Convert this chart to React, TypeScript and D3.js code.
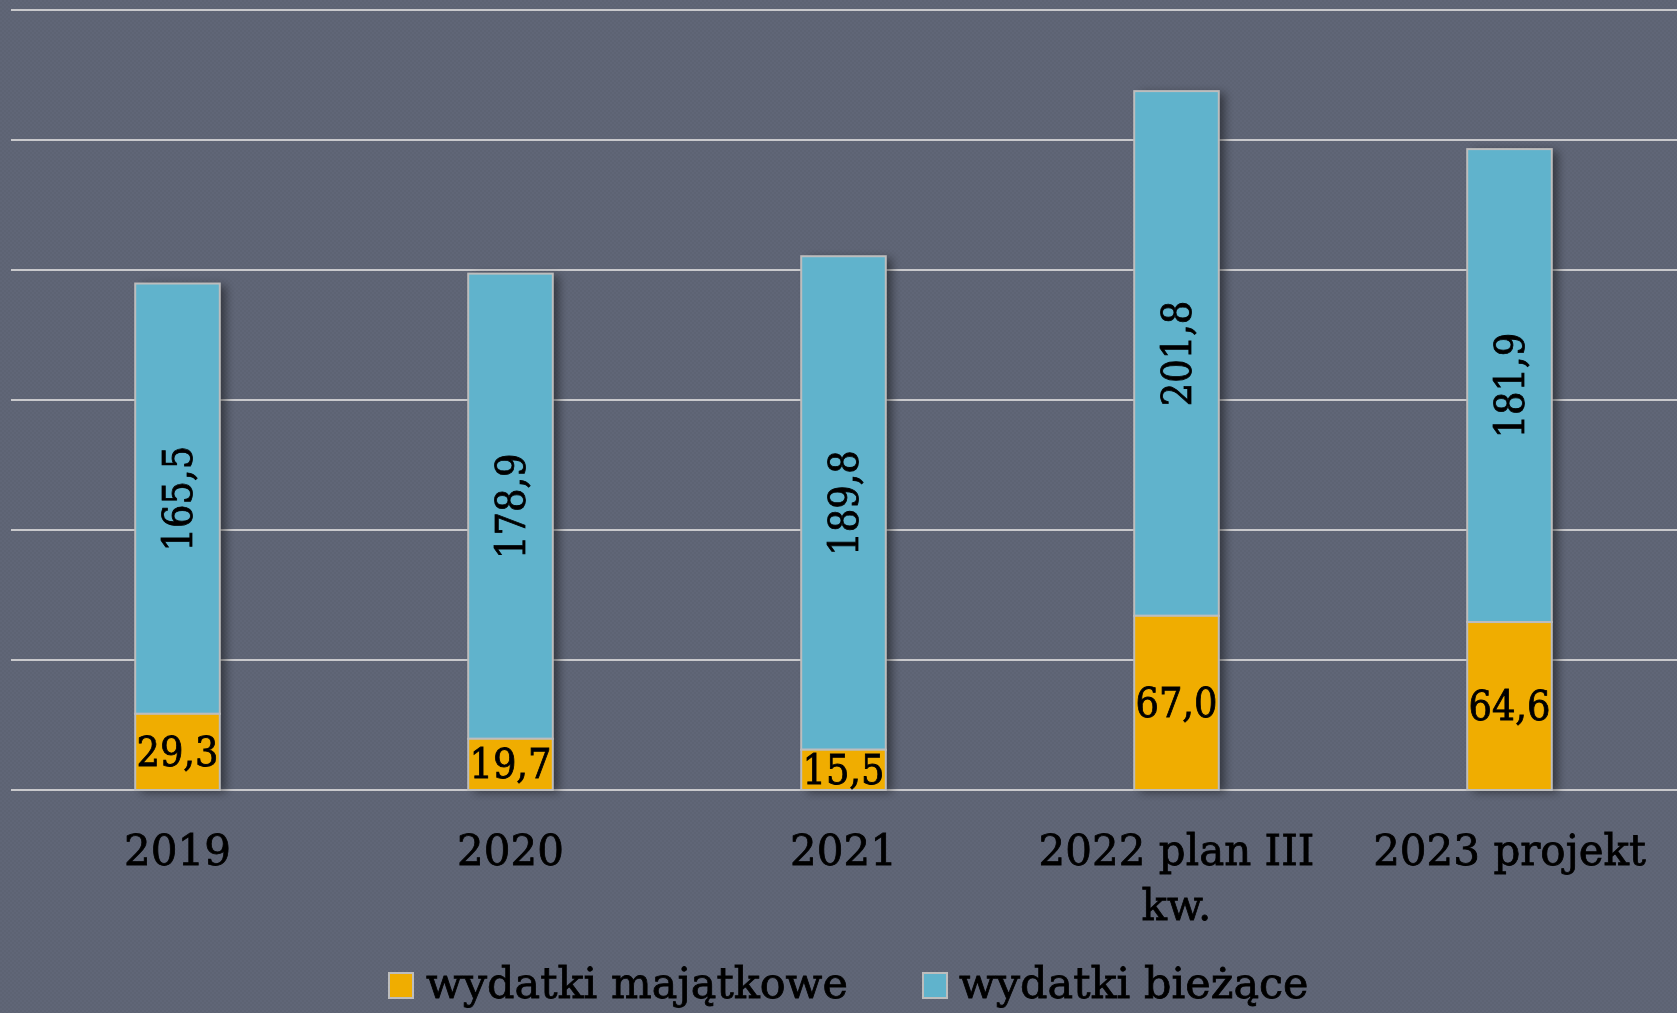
import React from "react";
import * as d3 from "d3";

const categories = ["2019", "2020", "2021", "2022 plan III kw.", "2023 projekt"];
const categoryLines = [["2019"], ["2020"], ["2021"], ["2022 plan III", "kw."], ["2023 projekt"]];
const majatkowe = [29.3, 19.7, 15.5, 67.0, 64.6];
const biezace = [165.5, 178.9, 189.8, 201.8, 181.9];
const seriesNames = ["wydatki majątkowe", "wydatki bieżące"];
const gridTicks = [0, 50, 100, 150, 200, 250, 300];

const W = 1677;
const H = 1013;
const BG = "#5d6373";
const ORANGE = "#f0ad00";
const BLUE = "#60b3cc";
const FONT = "'DejaVu Serif', serif";

const fmt = (v: number) => d3.format(".1f")(v).replace(".", ",");

export default function App() {
  const x = d3.scaleBand<string>().domain(categories).range([11, 1676]).paddingInner(0.746).paddingOuter(0.373);
  const y = d3.scaleLinear().domain([0, 300]).range([790, 10]);
  const bw = x.bandwidth();
  const heavy = { stroke: "#000", strokeWidth: 0.8 } as const;

  return (
    <svg width={W} height={H} style={{ position: "fixed", left: 0, top: 0 }} xmlns="http://www.w3.org/2000/svg">
      <defs>
        <pattern id="tex" width="4" height="4" patternUnits="userSpaceOnUse">
          <rect width="4" height="4" fill={BG} />
          <rect width="2" height="2" fill="#606677" />
          <rect x="2" y="2" width="2" height="2" fill="#606677" />
        </pattern>
        <filter id="shadow" x="-20%" y="-10%" width="160%" height="130%">
          <feDropShadow dx="6" dy="2" stdDeviation="5" floodColor="#000" floodOpacity="0.45" />
        </filter>
      </defs>
      <rect width={W} height={H} fill="url(#tex)" />
      {gridTicks.map((t) => (
        <line key={t} x1={11} x2={W} y1={y(t)} y2={y(t)} stroke="#c9c9cc" strokeWidth={2} />
      ))}
      {categories.map((c, i) => {
        const x0 = x(c)!;
        const m = majatkowe[i];
        const b = biezace[i];
        return (
          <g key={c}>
            <g filter="url(#shadow)">
              <rect x={x0} y={y(m + b)} width={bw} height={y(0) - y(m + b)} fill={BLUE} />
            </g>
            <rect x={x0} y={y(m + b)} width={bw} height={y(m) - y(m + b)} fill={BLUE} stroke="#bdbdbd" strokeWidth={2} />
            <rect x={x0} y={y(m)} width={bw} height={y(0) - y(m)} fill={ORANGE} stroke="#bdbdbd" strokeWidth={2} />
          </g>
        );
      })}
      {categories.map((c, i) => {
        const cx = x(c)! + bw / 2;
        const m = majatkowe[i];
        const b = biezace[i];
        const cyM = (y(0) + y(m)) / 2;
        const cyB = (y(m) + y(m + b)) / 2;
        return (
          <g key={"l" + c} fontFamily={FONT} fill="#000">
            <text x={cx} y={cyM} textAnchor="middle" dominantBaseline="central" fontSize={41} {...heavy} style={{ fontStretch: "condensed" }}>
              {fmt(m)}
            </text>
            <text
              transform={`translate(${cx},${cyB}) rotate(-90)`}
              textAnchor="middle"
              dominantBaseline="central"
              fontSize={41}
              {...heavy}
              style={{ fontStretch: "condensed" }}
            >
              {fmt(b)}
            </text>
            {categoryLines[i].map((line, j) => (
              <text key={j} x={cx} y={865 + j * 55} textAnchor="middle" fontSize={42} {...heavy}>
                {line}
              </text>
            ))}
          </g>
        );
      })}
      <g fontFamily={FONT} fontSize={43} fill="#000">
        <rect x={389} y={973} width={24} height={25} fill={ORANGE} stroke="#bdbdbd" strokeWidth={2} />
        <text x={426} y={998} {...heavy}>{seriesNames[0]}</text>
        <rect x={923} y={973} width={24} height={25} fill={BLUE} stroke="#bdbdbd" strokeWidth={2} />
        <text x={959} y={998} {...heavy}>{seriesNames[1]}</text>
      </g>
    </svg>
  );
}
